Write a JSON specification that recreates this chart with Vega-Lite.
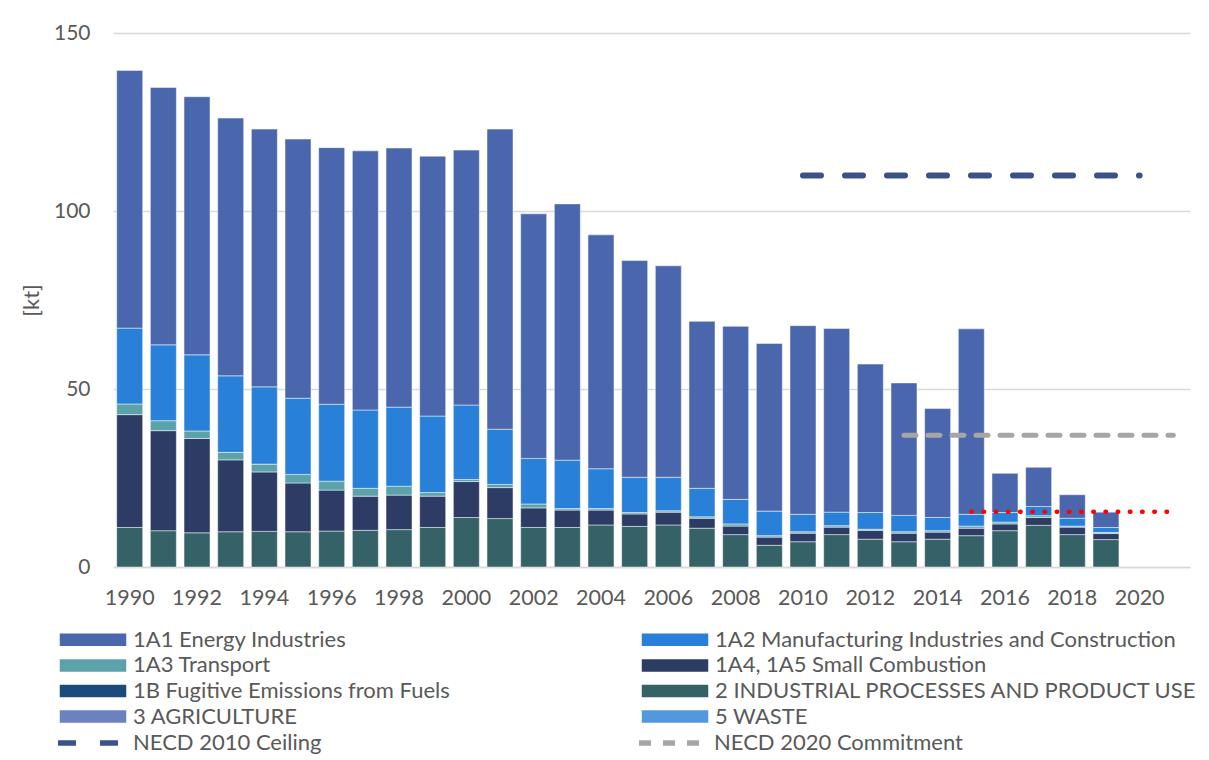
{
  "$schema": "https://vega.github.io/schema/vega-lite/v6.json",
  "width": 1077,
  "height": 534,
  "autosize": {"type": "none"},
  "padding": {"left": 113, "top": 33, "right": 19, "bottom": 193},
  "background": "white",
  "config": {
    "view": {"stroke": null},
    "font": "Lato",
    "axis": {"labelFont": "Lato", "titleFont": "Lato", "labelColor": "#595959", "titleColor": "#595959", "labelFontSize": 21.5},
    "legend": {"labelFont": "Lato", "labelFontSize": 22, "labelColor": "#595959", "labelLimit": 700}
  },
  "datasets": {
    "emissions": [
      {"year": 1990, "series": "2 INDUSTRIAL PROCESSES AND PRODUCT USE", "kt": 11.1},
      {"year": 1990, "series": "1A4, 1A5 Small Combustion", "kt": 31.7},
      {"year": 1990, "series": "1A3 Transport", "kt": 3.0},
      {"year": 1990, "series": "1A2 Manufacturing Industries and Construction", "kt": 21.3},
      {"year": 1990, "series": "1A1 Energy Industries", "kt": 72.4},
      {"year": 1991, "series": "2 INDUSTRIAL PROCESSES AND PRODUCT USE", "kt": 10.2},
      {"year": 1991, "series": "1A4, 1A5 Small Combustion", "kt": 28.1},
      {"year": 1991, "series": "1A3 Transport", "kt": 2.8},
      {"year": 1991, "series": "1A2 Manufacturing Industries and Construction", "kt": 21.3},
      {"year": 1991, "series": "1A1 Energy Industries", "kt": 72.3},
      {"year": 1992, "series": "2 INDUSTRIAL PROCESSES AND PRODUCT USE", "kt": 9.6},
      {"year": 1992, "series": "1A4, 1A5 Small Combustion", "kt": 26.5},
      {"year": 1992, "series": "1A3 Transport", "kt": 2.1},
      {"year": 1992, "series": "1A2 Manufacturing Industries and Construction", "kt": 21.4},
      {"year": 1992, "series": "1A1 Energy Industries", "kt": 72.5},
      {"year": 1993, "series": "2 INDUSTRIAL PROCESSES AND PRODUCT USE", "kt": 9.9},
      {"year": 1993, "series": "1A4, 1A5 Small Combustion", "kt": 20.2},
      {"year": 1993, "series": "1A3 Transport", "kt": 2.1},
      {"year": 1993, "series": "1A2 Manufacturing Industries and Construction", "kt": 21.5},
      {"year": 1993, "series": "1A1 Energy Industries", "kt": 72.4},
      {"year": 1994, "series": "2 INDUSTRIAL PROCESSES AND PRODUCT USE", "kt": 10.0},
      {"year": 1994, "series": "1A4, 1A5 Small Combustion", "kt": 16.7},
      {"year": 1994, "series": "1A3 Transport", "kt": 2.2},
      {"year": 1994, "series": "1A2 Manufacturing Industries and Construction", "kt": 21.7},
      {"year": 1994, "series": "1A1 Energy Industries", "kt": 72.4},
      {"year": 1995, "series": "2 INDUSTRIAL PROCESSES AND PRODUCT USE", "kt": 9.9},
      {"year": 1995, "series": "1A4, 1A5 Small Combustion", "kt": 13.7},
      {"year": 1995, "series": "1A3 Transport", "kt": 2.4},
      {"year": 1995, "series": "1A2 Manufacturing Industries and Construction", "kt": 21.4},
      {"year": 1995, "series": "1A1 Energy Industries", "kt": 72.8},
      {"year": 1996, "series": "2 INDUSTRIAL PROCESSES AND PRODUCT USE", "kt": 10.1},
      {"year": 1996, "series": "1A4, 1A5 Small Combustion", "kt": 11.5},
      {"year": 1996, "series": "1A3 Transport", "kt": 2.5},
      {"year": 1996, "series": "1A2 Manufacturing Industries and Construction", "kt": 21.6},
      {"year": 1996, "series": "1A1 Energy Industries", "kt": 72.1},
      {"year": 1997, "series": "2 INDUSTRIAL PROCESSES AND PRODUCT USE", "kt": 10.3},
      {"year": 1997, "series": "1A4, 1A5 Small Combustion", "kt": 9.6},
      {"year": 1997, "series": "1A3 Transport", "kt": 2.2},
      {"year": 1997, "series": "1A2 Manufacturing Industries and Construction", "kt": 22.0},
      {"year": 1997, "series": "1A1 Energy Industries", "kt": 72.8},
      {"year": 1998, "series": "2 INDUSTRIAL PROCESSES AND PRODUCT USE", "kt": 10.5},
      {"year": 1998, "series": "1A4, 1A5 Small Combustion", "kt": 9.7},
      {"year": 1998, "series": "1A3 Transport", "kt": 2.5},
      {"year": 1998, "series": "1A2 Manufacturing Industries and Construction", "kt": 22.2},
      {"year": 1998, "series": "1A1 Energy Industries", "kt": 72.8},
      {"year": 1999, "series": "2 INDUSTRIAL PROCESSES AND PRODUCT USE", "kt": 11.1},
      {"year": 1999, "series": "1A4, 1A5 Small Combustion", "kt": 8.8},
      {"year": 1999, "series": "1A3 Transport", "kt": 1.0},
      {"year": 1999, "series": "1A2 Manufacturing Industries and Construction", "kt": 21.5},
      {"year": 1999, "series": "1A1 Energy Industries", "kt": 73.0},
      {"year": 2000, "series": "2 INDUSTRIAL PROCESSES AND PRODUCT USE", "kt": 13.9},
      {"year": 2000, "series": "1A4, 1A5 Small Combustion", "kt": 10.1},
      {"year": 2000, "series": "1A3 Transport", "kt": 0.6},
      {"year": 2000, "series": "1A2 Manufacturing Industries and Construction", "kt": 20.9},
      {"year": 2000, "series": "1A1 Energy Industries", "kt": 71.6},
      {"year": 2001, "series": "2 INDUSTRIAL PROCESSES AND PRODUCT USE", "kt": 13.6},
      {"year": 2001, "series": "1A4, 1A5 Small Combustion", "kt": 8.7},
      {"year": 2001, "series": "1A3 Transport", "kt": 0.9},
      {"year": 2001, "series": "1A2 Manufacturing Industries and Construction", "kt": 15.5},
      {"year": 2001, "series": "1A1 Energy Industries", "kt": 84.3},
      {"year": 2002, "series": "2 INDUSTRIAL PROCESSES AND PRODUCT USE", "kt": 11.1},
      {"year": 2002, "series": "1A4, 1A5 Small Combustion", "kt": 5.5},
      {"year": 2002, "series": "1A3 Transport", "kt": 1.1},
      {"year": 2002, "series": "1A2 Manufacturing Industries and Construction", "kt": 12.8},
      {"year": 2002, "series": "1A1 Energy Industries", "kt": 68.7},
      {"year": 2003, "series": "2 INDUSTRIAL PROCESSES AND PRODUCT USE", "kt": 11.1},
      {"year": 2003, "series": "1A4, 1A5 Small Combustion", "kt": 4.9},
      {"year": 2003, "series": "1A3 Transport", "kt": 0.4},
      {"year": 2003, "series": "1A2 Manufacturing Industries and Construction", "kt": 13.6},
      {"year": 2003, "series": "1A1 Energy Industries", "kt": 72.0},
      {"year": 2004, "series": "2 INDUSTRIAL PROCESSES AND PRODUCT USE", "kt": 11.8},
      {"year": 2004, "series": "1A4, 1A5 Small Combustion", "kt": 4.2},
      {"year": 2004, "series": "1A3 Transport", "kt": 0.4},
      {"year": 2004, "series": "1A2 Manufacturing Industries and Construction", "kt": 11.2},
      {"year": 2004, "series": "1A1 Energy Industries", "kt": 65.7},
      {"year": 2005, "series": "2 INDUSTRIAL PROCESSES AND PRODUCT USE", "kt": 11.4},
      {"year": 2005, "series": "1A4, 1A5 Small Combustion", "kt": 3.5},
      {"year": 2005, "series": "1A3 Transport", "kt": 0.4},
      {"year": 2005, "series": "1A2 Manufacturing Industries and Construction", "kt": 9.9},
      {"year": 2005, "series": "1A1 Energy Industries", "kt": 60.9},
      {"year": 2006, "series": "2 INDUSTRIAL PROCESSES AND PRODUCT USE", "kt": 11.8},
      {"year": 2006, "series": "1A4, 1A5 Small Combustion", "kt": 3.6},
      {"year": 2006, "series": "1A3 Transport", "kt": 0.4},
      {"year": 2006, "series": "1A2 Manufacturing Industries and Construction", "kt": 9.4},
      {"year": 2006, "series": "1A1 Energy Industries", "kt": 59.4},
      {"year": 2007, "series": "2 INDUSTRIAL PROCESSES AND PRODUCT USE", "kt": 10.9},
      {"year": 2007, "series": "1A4, 1A5 Small Combustion", "kt": 2.8},
      {"year": 2007, "series": "1A3 Transport", "kt": 0.4},
      {"year": 2007, "series": "1A2 Manufacturing Industries and Construction", "kt": 8.0},
      {"year": 2007, "series": "1A1 Energy Industries", "kt": 46.9},
      {"year": 2008, "series": "2 INDUSTRIAL PROCESSES AND PRODUCT USE", "kt": 9.1},
      {"year": 2008, "series": "1A4, 1A5 Small Combustion", "kt": 2.4},
      {"year": 2008, "series": "1A3 Transport", "kt": 0.6},
      {"year": 2008, "series": "1A2 Manufacturing Industries and Construction", "kt": 6.9},
      {"year": 2008, "series": "1A1 Energy Industries", "kt": 48.6},
      {"year": 2009, "series": "2 INDUSTRIAL PROCESSES AND PRODUCT USE", "kt": 6.1},
      {"year": 2009, "series": "1A4, 1A5 Small Combustion", "kt": 2.3},
      {"year": 2009, "series": "1A3 Transport", "kt": 0.4},
      {"year": 2009, "series": "1A2 Manufacturing Industries and Construction", "kt": 6.9},
      {"year": 2009, "series": "1A1 Energy Industries", "kt": 47.1},
      {"year": 2010, "series": "2 INDUSTRIAL PROCESSES AND PRODUCT USE", "kt": 7.1},
      {"year": 2010, "series": "1A4, 1A5 Small Combustion", "kt": 2.4},
      {"year": 2010, "series": "1A3 Transport", "kt": 0.4},
      {"year": 2010, "series": "1A2 Manufacturing Industries and Construction", "kt": 4.9},
      {"year": 2010, "series": "1A1 Energy Industries", "kt": 53.0},
      {"year": 2011, "series": "2 INDUSTRIAL PROCESSES AND PRODUCT USE", "kt": 9.1},
      {"year": 2011, "series": "1A4, 1A5 Small Combustion", "kt": 2.1},
      {"year": 2011, "series": "1A3 Transport", "kt": 0.4},
      {"year": 2011, "series": "1A2 Manufacturing Industries and Construction", "kt": 3.8},
      {"year": 2011, "series": "1A1 Energy Industries", "kt": 51.6},
      {"year": 2012, "series": "2 INDUSTRIAL PROCESSES AND PRODUCT USE", "kt": 7.8},
      {"year": 2012, "series": "1A4, 1A5 Small Combustion", "kt": 2.5},
      {"year": 2012, "series": "1A3 Transport", "kt": 0.3},
      {"year": 2012, "series": "1A2 Manufacturing Industries and Construction", "kt": 4.7},
      {"year": 2012, "series": "1A1 Energy Industries", "kt": 41.7},
      {"year": 2013, "series": "2 INDUSTRIAL PROCESSES AND PRODUCT USE", "kt": 7.1},
      {"year": 2013, "series": "1A4, 1A5 Small Combustion", "kt": 2.4},
      {"year": 2013, "series": "1A3 Transport", "kt": 0.4},
      {"year": 2013, "series": "1A2 Manufacturing Industries and Construction", "kt": 4.6},
      {"year": 2013, "series": "1A1 Energy Industries", "kt": 37.2},
      {"year": 2014, "series": "2 INDUSTRIAL PROCESSES AND PRODUCT USE", "kt": 7.8},
      {"year": 2014, "series": "1A4, 1A5 Small Combustion", "kt": 2.0},
      {"year": 2014, "series": "1A3 Transport", "kt": 0.4},
      {"year": 2014, "series": "1A2 Manufacturing Industries and Construction", "kt": 3.7},
      {"year": 2014, "series": "1A1 Energy Industries", "kt": 30.6},
      {"year": 2015, "series": "2 INDUSTRIAL PROCESSES AND PRODUCT USE", "kt": 8.8},
      {"year": 2015, "series": "1A4, 1A5 Small Combustion", "kt": 2.1},
      {"year": 2015, "series": "1A3 Transport", "kt": 0.6},
      {"year": 2015, "series": "1A2 Manufacturing Industries and Construction", "kt": 3.3},
      {"year": 2015, "series": "1A1 Energy Industries", "kt": 52.1},
      {"year": 2016, "series": "2 INDUSTRIAL PROCESSES AND PRODUCT USE", "kt": 10.2},
      {"year": 2016, "series": "1A4, 1A5 Small Combustion", "kt": 1.9},
      {"year": 2016, "series": "1A3 Transport", "kt": 0.5},
      {"year": 2016, "series": "1A2 Manufacturing Industries and Construction", "kt": 2.7},
      {"year": 2016, "series": "1A1 Energy Industries", "kt": 11.0},
      {"year": 2017, "series": "2 INDUSTRIAL PROCESSES AND PRODUCT USE", "kt": 11.7},
      {"year": 2017, "series": "1A4, 1A5 Small Combustion", "kt": 2.2},
      {"year": 2017, "series": "1A3 Transport", "kt": 0.5},
      {"year": 2017, "series": "1A2 Manufacturing Industries and Construction", "kt": 2.6},
      {"year": 2017, "series": "1A1 Energy Industries", "kt": 11.0},
      {"year": 2018, "series": "2 INDUSTRIAL PROCESSES AND PRODUCT USE", "kt": 9.1},
      {"year": 2018, "series": "1A4, 1A5 Small Combustion", "kt": 2.1},
      {"year": 2018, "series": "1A3 Transport", "kt": 0.3},
      {"year": 2018, "series": "1A2 Manufacturing Industries and Construction", "kt": 2.2},
      {"year": 2018, "series": "1A1 Energy Industries", "kt": 6.6},
      {"year": 2019, "series": "2 INDUSTRIAL PROCESSES AND PRODUCT USE", "kt": 7.7},
      {"year": 2019, "series": "1A4, 1A5 Small Combustion", "kt": 1.7},
      {"year": 2019, "series": "1A3 Transport", "kt": 0.3},
      {"year": 2019, "series": "1A2 Manufacturing Industries and Construction", "kt": 1.4},
      {"year": 2019, "series": "1A1 Energy Industries", "kt": 4.3}
    ],
    "ceilings": [
      {"year": 2010, "series": "NECD 2010 Ceiling", "kt": 110},
      {"year": 2020, "series": "NECD 2010 Ceiling", "kt": 110},
      {"year": 2013, "series": "NECD 2020 Commitment", "kt": 37},
      {"year": 2021, "series": "NECD 2020 Commitment", "kt": 37}
    ],
    "target_line": [
      {"year": 2015, "kt": 15.5},
      {"year": 2021, "kt": 15.5}
    ]
  },
  "layer": [
    {
      "data": {"name": "emissions"},
      "mark": {"type": "bar", "stroke": "#ffffff", "strokeWidth": 0.8, "strokeOpacity": 0.6},
      "encoding": {
        "x": {
          "field": "year",
          "type": "ordinal",
          "scale": {
            "domain": [1990, 1991, 1992, 1993, 1994, 1995, 1996, 1997, 1998, 1999, 2000, 2001, 2002, 2003, 2004, 2005, 2006, 2007, 2008, 2009, 2010, 2011, 2012, 2013, 2014, 2015, 2016, 2017, 2018, 2019, 2020, 2021],
            "paddingInner": 0.228,
            "paddingOuter": 0.11
          },
          "axis": {
            "title": null,
            "labelAngle": 0,
            "labelExpr": "datum.value % 2 == 0 ? datum.label : ''",
            "ticks": false,
            "domainColor": "#d9d9d9",
            "domainWidth": 1.5,
            "labelPadding": 20,
            "grid": false
          }
        },
        "y": {
          "field": "kt",
          "type": "quantitative",
          "stack": "zero",
          "scale": {"domain": [0, 150], "nice": false},
          "axis": {
            "title": "[kt]",
            "titleFontSize": 22,
            "titleFontWeight": "normal",
            "titlePadding": 10,
            "values": [0, 50, 100, 150],
            "domain": false,
            "ticks": false,
            "gridColor": "#d9d9d9",
            "gridWidth": 1.3,
            "labelFontSize": 21,
            "labelPadding": 23
          }
        },
        "color": {
          "field": "series",
          "type": "nominal",
          "scale": {
            "domain": [
              "1A1 Energy Industries",
              "1A2 Manufacturing Industries and Construction",
              "1A3 Transport",
              "1A4, 1A5 Small Combustion",
              "1B Fugitive Emissions from Fuels",
              "2 INDUSTRIAL PROCESSES AND PRODUCT USE",
              "3 AGRICULTURE",
              "5 WASTE"
            ],
            "range": ["#4a66ad", "#2980d8", "#5ba2ab", "#2c3c64", "#1b4a7d", "#346266", "#6b81c0", "#5298dc"]
          },
          "legend": {
            "title": null,
            "orient": "none",
            "legendX": -55,
            "legendY": 595.8,
            "direction": "horizontal",
            "columns": 2,
            "symbolType": "M-3.4,-0.7H3.4V0.7H-3.4Z",
            "symbolSize": 400,
            "symbolOffset": 24,
            "labelOffset": 29,
            "rowPadding": 3.6,
            "columnPadding": 188
          }
        },
        "order": {"field": "series", "sort": "descending"}
      }
    },
    {
      "data": {"name": "ceilings"},
      "transform": [{"filter": "datum.series == 'NECD 2010 Ceiling'"}],
      "mark": {"type": "line", "strokeWidth": 6, "strokeCap": "round"},
      "encoding": {
        "x": {"field": "year", "type": "ordinal"},
        "y": {"field": "kt", "type": "quantitative"},
        "stroke": {
          "field": "series",
          "type": "nominal",
          "scale": {"domain": ["NECD 2010 Ceiling", "NECD 2020 Commitment"], "range": ["#3b5189", "#a6a6a6"]},
          "legend": {
            "title": null,
            "orient": "none",
            "legendX": -55,
            "legendY": 697,
            "direction": "horizontal",
            "columns": 2,
            "symbolType": "M-3.4,0H3.4",
            "symbolSize": 400,
            "symbolOffset": 21,
            "symbolStrokeWidth": 5.5,
            "labelOffset": 28,
            "columnPadding": 306
          }
        },
        "strokeDash": {
          "field": "series",
          "type": "nominal",
          "scale": {"domain": ["NECD 2010 Ceiling", "NECD 2020 Commitment"], "range": [[18, 24], [12, 12]]},
          "legend": {
            "title": null,
            "orient": "none",
            "legendX": -55,
            "legendY": 697,
            "direction": "horizontal",
            "columns": 2,
            "symbolType": "M-3.4,0H3.4",
            "symbolSize": 400,
            "symbolOffset": 21,
            "symbolStrokeWidth": 5.5,
            "labelOffset": 28,
            "columnPadding": 306
          }
        }
      }
    },
    {
      "data": {"name": "ceilings"},
      "transform": [{"filter": "datum.series == 'NECD 2020 Commitment'"}],
      "mark": {"type": "line", "strokeWidth": 5, "strokeCap": "round"},
      "encoding": {
        "x": {"field": "year", "type": "ordinal"},
        "y": {"field": "kt", "type": "quantitative"},
        "stroke": {"field": "series", "type": "nominal"},
        "strokeDash": {"field": "series", "type": "nominal"}
      }
    },
    {
      "data": {"name": "target_line"},
      "mark": {"type": "line", "color": "#ff0000", "strokeWidth": 4.5, "strokeDash": [0.5, 11.7], "strokeCap": "round"},
      "encoding": {
        "x": {"field": "year", "type": "ordinal"},
        "y": {"field": "kt", "type": "quantitative"}
      }
    }
  ]
}
